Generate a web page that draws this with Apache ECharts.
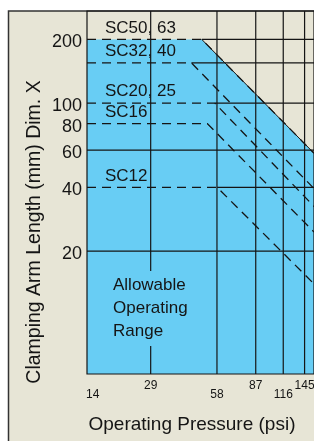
<!DOCTYPE html>
<html><head><meta charset="utf-8">
<script src="https://cdn.jsdelivr.net/npm/echarts@6/dist/echarts.min.js"></script>
<style>html,body{margin:0;padding:0;background:#fff}#c{width:314px;height:441px}</style>
</head><body><div id="c"></div>
<script>
// ---- data ----
const xTickLabels = ['14', '29', '58', '87', '116', '145'];
const xTickVals = [14.5, 29, 58, 87, 116, 145];
const xTickHigh = [false, true, false, true, false, true];
const xGridVals = [29, 58, 87, 116, 145];
const yTickVals = [20, 40, 60, 80, 100, 200];
const yFullGrid = [20, 60];
const sizeNames = ['SC50, 63', 'SC32, 40', 'SC20, 25', 'SC16', 'SC12'];
const sizeLevel = [200, 155, 100, 80, 40];
const sizeBendPsi = [49.5, 44.4, 56.7, 52.5, 58.1];
const sizeEndPsi = 160;
const sizeEndVal = [58, 39.5, 32.5, 24.6, 14.0];
const sizeGridRight = [true, true, true, false, true];
const X_MIN = 14.9, X_MAX = 160, Y_MIN = 5.25, Y_MAX = 272.6;

const FONT = "'Liberation Sans', Arial, Helvetica, sans-serif";
const BLUE = '#68cdf4';
const BEIGE = '#e7e5d6';
const INK = '#151515';

const chart = echarts.init(document.getElementById('c'), null, {renderer: 'canvas'});

const series = [];
// allowable operating range fill
series.push({
  type: 'line', silent: true, symbol: 'none', z: 1,
  data: [[X_MIN, sizeLevel[0]], [sizeBendPsi[0], sizeLevel[0]], [sizeEndPsi, sizeEndVal[0]]],
  lineStyle: {width: 0},
  areaStyle: {color: BLUE, opacity: 1, origin: 'start'}
});
// envelope edge
series.push({
  type: 'line', silent: true, symbol: 'none', z: 3,
  data: [[sizeBendPsi[0], sizeLevel[0]], [sizeEndPsi, sizeEndVal[0]]],
  lineStyle: {width: 1, color: INK}
});
// vertical grid lines
xGridVals.forEach(v => series.push({
  type: 'line', silent: true, symbol: 'none', z: 2,
  data: [[v, Y_MIN], [v, Y_MAX]],
  lineStyle: {width: 1.2, color: INK}
}));
// full horizontal grid lines
yFullGrid.forEach(v => series.push({
  type: 'line', silent: true, symbol: 'none', z: 2,
  data: [[X_MIN, v], [X_MAX, v]],
  lineStyle: {width: 1.2, color: INK}
}));
// partial horizontal grid lines (right of each bend)
sizeLevel.forEach((v, i) => {
  if (!sizeGridRight[i]) return;
  series.push({
    type: 'line', silent: true, symbol: 'none', z: 2,
    data: [[sizeBendPsi[i], v], [X_MAX, v]],
    lineStyle: {width: 1.2, color: INK}
  });
});
// dashed size lines
sizeLevel.forEach((v, i) => series.push({
  type: 'line', silent: true, symbol: 'none', z: 4,
  data: [[X_MIN, v], [sizeBendPsi[i], v], [sizeEndPsi, sizeEndVal[i]]],
  lineStyle: {width: 1.3, color: INK, type: [9, 6]}
}));

chart.setOption({
  animation: false,
  backgroundColor: '#fff',
  grid: {left: 87, top: 11, bottom: 67, right: -8.5, show: true, borderColor: INK, borderWidth: 1.2, backgroundColor: 'transparent', z: 5},
  xAxis: {type: 'log', logBase: 10, min: X_MIN, max: X_MAX,
    axisLine: {show: false}, axisTick: {show: false}, axisLabel: {show: false}, splitLine: {show: false}},
  yAxis: {type: 'log', logBase: 10, min: Y_MIN, max: Y_MAX,
    axisLine: {show: false}, axisTick: {show: false}, axisLabel: {show: false}, splitLine: {show: false}},
  series: series
});

// ---- text placed through the chart's scales ----
const g = [];
g.push({type: 'rect', z: -10, shape: {x: 8.5, y: 11, width: 400, height: 500},
  style: {fill: BEIGE, stroke: '#333', lineWidth: 1.5}});
const bottomPx = chart.convertToPixel({gridIndex: 0}, [X_MIN, Y_MIN]);
const leftPx = bottomPx[0];
xTickVals.forEach((v, i) => {
  const p = chart.convertToPixel({gridIndex: 0}, [v, Y_MIN]);
  const first = i === 0;
  g.push({type: 'text', z: 50, x: first ? leftPx - 1 : p[0], y: p[1] + (xTickHigh[i] ? 12 : 21),
    style: {text: xTickLabels[i], font: '12px ' + FONT, fill: INK,
      align: first ? 'left' : 'center', verticalAlign: 'middle'}});
});
yTickVals.forEach(v => {
  const p = chart.convertToPixel({gridIndex: 0}, [X_MIN, v]);
  g.push({type: 'text', z: 50, x: leftPx - 5, y: p[1] + 3,
    style: {text: String(v), font: '18px ' + FONT, fill: INK, align: 'right', verticalAlign: 'middle'}});
});
sizeNames.forEach((n, i) => {
  const p = chart.convertToPixel({gridIndex: 0}, [X_MIN, sizeLevel[i]]);
  g.push({type: 'text', z: 50, x: leftPx + 18, y: p[1] - 11.5,
    style: {text: n, font: '17px ' + FONT, fill: INK, align: 'left', verticalAlign: 'middle'}});
});
g.push({type: 'text', z: 50, x: 112, y: 271,
  style: {text: 'Allowable\nOperating\nRange', font: '17px ' + FONT, lineHeight: 23, fill: INK,
    align: 'left', verticalAlign: 'top', backgroundColor: BLUE, padding: [3, 2, 3, 1]}});
g.push({type: 'text', z: 50, x: 192, y: 425,
  style: {text: 'Operating Pressure (psi)', font: '19px ' + FONT, fill: INK, align: 'center', verticalAlign: 'middle'}});
g.push({type: 'text', z: 50, x: 35, y: 232, rotation: Math.PI / 2,
  style: {text: 'Clamping Arm Length (mm) Dim. X', font: '19.5px ' + FONT, fill: INK, align: 'center', verticalAlign: 'middle'}});
chart.setOption({graphic: {elements: g}});
</script></body></html>
